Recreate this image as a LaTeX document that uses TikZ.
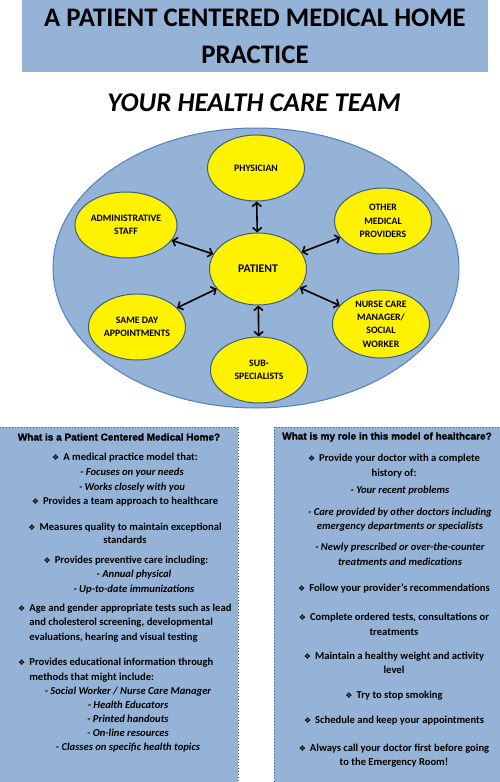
\documentclass[tikz,border=0pt]{standalone}
\usepackage{fontspec}
\setmainfont{Carlito}
\newfontfamily\symfont{DejaVu Sans}
\newfontfamily\headfont{Liberation Sans}[BoldFeatures={FakeBold=1.5}]
\usetikzlibrary{shapes.geometric,arrows.meta}

\definecolor{paleblue}{HTML}{95B3D7}
\definecolor{rimblue}{HTML}{4F81BD}
\definecolor{darkrim}{HTML}{385D8A}
\newcommand{\diabul}{{\symfont\fontsize{8}{8}\selectfont ❖}\hspace{4pt}}
\newcommand{\hangpad}{\phantom{\diabul}}

\begin{document}
\begin{tikzpicture}[x=1pt,y=-1pt,
  team/.style={ellipse,draw=darkrim,line width=1pt,fill=yellow,inner sep=0pt,
    minimum width=97pt,minimum height=66pt,align=center,
    font=\bfseries\fontsize{9.8}{13.3}\selectfont},
  link/.style={{Straight Barb[length=4pt,width=9pt]}-{Straight Barb[length=4pt,width=9pt]},line width=1.6pt},
  body/.style={align=center,inner sep=0pt,font=\bfseries\fontsize{10.6}{14.5}\selectfont},
  sub/.style={body,font=\bfseries\itshape\fontsize{10.6}{14.5}\selectfont},
  head/.style={inner sep=0pt,font=\headfont\bfseries\fontsize{10}{12}\selectfont},
  infobox/.style={fill=paleblue,draw=darkrim,line width=1pt,dotted}]
\useasboundingbox (0,0) rectangle (500,782);
\clip (0,0) rectangle (500,782);

% Title
\fill[paleblue] (22,0) rectangle (488,72);
\node[align=center,font=\bfseries\fontsize{26.8}{37}\selectfont] (title) at (255,36) {A PATIENT CENTERED MEDICAL HOME\\PRACTICE};
\node[font=\bfseries\itshape\fontsize{27}{27}\selectfont] (teamtitle) at (254,103) {YOUR HEALTH CARE TEAM};

% Team
\draw[rimblue,fill=paleblue,line width=1pt] (256,268) ellipse (203pt and 140pt);
\node[team] (phys) at (256,168) {PHYSICIAN};
\node[team,minimum width=102pt] (admin) at (126,225) {ADMINISTRATIVE\\STAFF};
\node[team] (other) at (383,221) {OTHER\\MEDICAL\\PROVIDERS};
\node[team,minimum height=72pt,font=\bfseries\fontsize{11.7}{12}\selectfont] (pat) at (258,269) {PATIENT};
\node[team] (same) at (137,327) {SAME DAY\\APPOINTMENTS};
\node[team,minimum height=68pt] (nurse) at (381,324) {NURSE CARE\\MANAGER/\\SOCIAL\\WORKER};
\node[team] (sub) at (259,370) {SUB-\\SPECIALISTS};
\foreach \n in {phys,admin,other,same,nurse,sub}
  \draw[link] (pat) -- (\n);

% Boxes
\draw[infobox] (-5,427) rectangle (238,790);
\draw[infobox] (274,427) rectangle (505,790);

% Left box
\node[head] (lhead) at (119,437) {What is a Patient Centered Medical Home?};
\node[body] (l1) at (125,458) {\diabul A medical practice model that:};
\node[sub] (l1a) at (132,480) {- Focuses on your needs\\- Works closely with you};
\node[body] (l2) at (125,502) {\diabul Provides a team approach to healthcare};
\node[body,font=\bfseries\fontsize{10.6}{13}\selectfont] (l3) at (125,533.5) {\diabul Measures quality to maintain exceptional\\standards};
\node[body] (l4) at (126,561) {\diabul Provides preventive care including:};
\node[sub,font=\bfseries\itshape\fontsize{10.6}{15.5}\selectfont] (l4a) at (134,582) {- Annual physical\\- Up-to-date immunizations};
\node[body,align=left,anchor=west] (l5) at (18,623) {\diabul Age and gender appropriate tests such as lead\\\hangpad and cholesterol screening, developmental\\\hangpad evaluations, hearing and visual testing};
\node[body,align=left,anchor=west] (l6) at (18,670) {\diabul Provides educational information through\\\hangpad methods that might include:};
\node[sub,font=\bfseries\itshape\fontsize{10.6}{14}\selectfont] (l6a) at (128,720) {- Social Worker / Nurse Care Manager\\- Health Educators\\- Printed handouts\\- On-line resources\\- Classes on specific health topics};

% Right box
\node[head] (rhead) at (387,437) {What is my role in this model of healthcare?};
\node[body] (r1) at (394,466) {\diabul Provide your doctor with a complete\\history of:};
\node[sub] (r2) at (400,491) {- Your recent problems};
\node[sub] (r3) at (400,519.5) {- Care provided by other doctors including\\emergency departments or specialists};
\node[sub] (r4) at (400,554.5) {- Newly prescribed or over-the-counter\\treatments and medications};
\node[body] (r5) at (394,588) {\diabul Follow your provider’s recommendations};
\node[body] (r6) at (394,624.5) {\diabul Complete ordered tests, consultations or\\treatments};
\node[body] (r7) at (394,663) {\diabul Maintain a healthy weight and activity\\level};
\node[body] (r8) at (394,696) {\diabul Try to stop smoking};
\node[body] (r9) at (394,721) {\diabul Schedule and keep your appointments};
\node[body] (r10) at (394,755.5) {\diabul Always call your doctor first before going\\to the Emergency Room!};
\end{tikzpicture}
\end{document}
